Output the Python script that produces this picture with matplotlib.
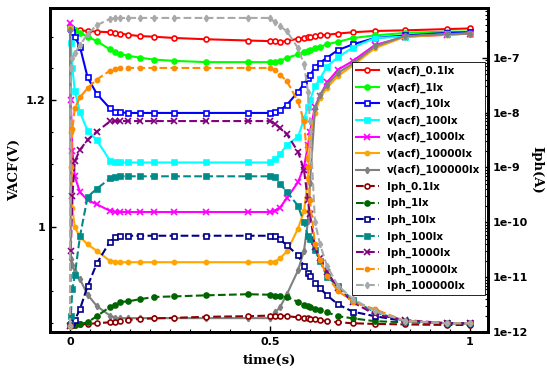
import numpy as np
import matplotlib
matplotlib.use('Agg')
import matplotlib.pyplot as plt
from matplotlib.ticker import FixedLocator, FuncFormatter, MultipleLocator, LogLocator, NullFormatter

# tiempo (s)
t = [0, 0.002, 0.006, 0.012, 0.025, 0.044, 0.067,
     0.1, 0.1125, 0.125, 0.145, 0.175, 0.21, 0.26, 0.34, 0.445,
     0.5, 0.5125, 0.525, 0.5425, 0.57, 0.585, 0.595, 0.6,
     0.6125, 0.625, 0.6425, 0.67, 0.7075, 0.7625, 0.8375, 0.9425, 1.0]

# VACF (V)
v_01 = [1.313, 1.312, 1.312, 1.311, 1.310, 1.309, 1.308,
        1.307, 1.306, 1.305, 1.303, 1.301, 1.300, 1.298, 1.296, 1.294,
        1.293, 1.293, 1.292, 1.293, 1.297, 1.298, 1.299, 1.300,
        1.301, 1.302, 1.303, 1.305, 1.307, 1.309, 1.310, 1.312, 1.313]
v_1 = [1.313, 1.313, 1.312, 1.310, 1.306, 1.300, 1.293,
       1.280, 1.276, 1.273, 1.270, 1.267, 1.264, 1.262, 1.260, 1.260,
       1.260, 1.260, 1.262, 1.267, 1.272, 1.276, 1.278, 1.279,
       1.282, 1.284, 1.288, 1.292, 1.298, 1.302, 1.306, 1.308, 1.308]
v_10 = [1.313, 1.312, 1.308, 1.300, 1.284, 1.236, 1.210,
        1.187, 1.182, 1.181, 1.180, 1.180, 1.180, 1.180, 1.180, 1.180,
        1.180, 1.181, 1.184, 1.193, 1.213, 1.226, 1.235, 1.239,
        1.252, 1.259, 1.267, 1.279, 1.288, 1.298, 1.302, 1.306, 1.307]
v_100 = [1.313, 1.290, 1.250, 1.215, 1.181, 1.152, 1.137,
         1.105, 1.103, 1.102, 1.102, 1.102, 1.102, 1.102, 1.102, 1.102,
         1.102, 1.108, 1.115, 1.130, 1.142, 1.170, 1.190, 1.200,
         1.222, 1.234, 1.253, 1.268, 1.283, 1.298, 1.300, 1.304, 1.305]
v_1000 = [1.321, 1.200, 1.120, 1.080, 1.055, 1.043, 1.036,
          1.026, 1.024, 1.024, 1.024, 1.024, 1.024, 1.024, 1.024, 1.024,
          1.024, 1.026, 1.031, 1.046, 1.071, 1.095, 1.129, 1.150,
          1.190, 1.207, 1.228, 1.248, 1.262, 1.287, 1.300, 1.303, 1.305]
v_10000 = [1.313, 1.150, 1.030, 1.000, 0.985, 0.973, 0.963,
           0.947, 0.946, 0.945, 0.945, 0.945, 0.945, 0.945, 0.945, 0.945,
           0.945, 0.946, 0.951, 0.962, 0.998, 1.025, 1.077, 1.140,
           1.180, 1.203, 1.220, 1.238, 1.255, 1.282, 1.300, 1.303, 1.305]
v_100000 = [1.310, 0.950, 0.940, 0.930, 0.918, 0.894, 0.876,
            0.861, 0.858, 0.857, 0.857, 0.857, 0.857, 0.857, 0.857, 0.857,
            0.857, 0.866, 0.874, 0.895, 0.932, 0.963, 1.010, 1.070,
            1.187, 1.208, 1.224, 1.243, 1.258, 1.285, 1.301, 1.304, 1.305]

# Iph (A)
i_01 = [1.35e-12, 1.35e-12, 1.35e-12, 1.35e-12, 1.38e-12, 1.41e-12, 1.45e-12,
        1.51e-12, 1.55e-12, 1.58e-12, 1.66e-12, 1.74e-12, 1.78e-12, 1.82e-12, 1.9e-12, 1.95e-12,
        2.0e-12, 2.0e-12, 2.0e-12, 1.95e-12, 1.86e-12, 1.82e-12, 1.78e-12, 1.74e-12,
        1.7e-12, 1.66e-12, 1.58e-12, 1.51e-12, 1.45e-12, 1.41e-12, 1.38e-12, 1.35e-12, 1.35e-12]
i_1 = [1.35e-12, 1.35e-12, 1.35e-12, 1.36e-12, 1.41e-12, 1.51e-12, 1.95e-12,
       2.88e-12, 3.16e-12, 3.55e-12, 3.63e-12, 3.98e-12, 4.37e-12, 4.47e-12, 4.68e-12, 4.9e-12,
       4.8e-12, 4.57e-12, 4.47e-12, 4.37e-12, 3.55e-12, 3.16e-12, 2.95e-12, 2.82e-12,
       2.69e-12, 2.51e-12, 2.29e-12, 1.95e-12, 1.78e-12, 1.58e-12, 1.51e-12, 1.45e-12, 1.45e-12]
i_10 = [1.35e-12, 1.4e-12, 1.5e-12, 1.66e-12, 2.63e-12, 6.9e-12, 1.78e-11,
        4.47e-11, 5.37e-11, 5.62e-11, 5.7e-11, 5.7e-11, 5.7e-11, 5.7e-11, 5.7e-11, 5.7e-11,
        5.7e-11, 5.6e-11, 4.9e-11, 3.8e-11, 2.5e-11, 1.58e-11, 1.2e-11, 1.07e-11,
        7.9e-12, 6.3e-12, 4.7e-12, 3.2e-12, 2.35e-12, 1.95e-12, 1.58e-12, 1.45e-12, 1.45e-12]
i_100 = [1.35e-12, 2e-12, 6e-12, 1.1e-11, 5.6e-11, 2.9e-10, 4.1e-10,
         6.3e-10, 6.6e-10, 6.9e-10, 6.9e-10, 6.9e-10, 6.9e-10, 6.9e-10, 6.9e-10, 6.9e-10,
         6.9e-10, 6.8e-10, 5e-10, 3.6e-10, 2e-10, 1e-10, 5.6e-11, 4.9e-11,
         3.2e-11, 2e-11, 1.02e-11, 6.9e-12, 3.8e-12, 2.3e-12, 1.58e-12, 1.45e-12, 1.45e-12]
i_1000 = [1.3e-12, 3e-11, 3e-10, 1.3e-9, 2.1e-9, 3.2e-9, 4.5e-9,
          6.9e-9, 7e-9, 7e-9, 7e-9, 7e-9, 7e-9, 7e-9, 7e-9, 7e-9,
          7e-9, 6.3e-9, 5.2e-9, 4e-9, 1.95e-9, 9e-10, 2.5e-10, 1.4e-10,
          3.5e-11, 2.2e-11, 1.26e-11, 6.3e-12, 3.5e-12, 2.1e-12, 1.66e-12, 1.45e-12, 1.45e-12]
i_10000 = [1.3e-12, 1e-9, 5e-9, 1.2e-8, 1.9e-8, 2.8e-8, 4e-8,
           5.8e-8, 6.3e-8, 6.5e-8, 6.5e-8, 6.5e-8, 6.5e-8, 6.5e-8, 6.5e-8, 6.5e-8,
           6.5e-8, 6e-8, 4.9e-8, 3.7e-8, 1.6e-8, 7e-9, 1e-9, 2.5e-10,
           4e-11, 2.1e-11, 1.05e-11, 5.6e-12, 3.6e-12, 2.6e-12, 1.6e-12, 1.45e-12, 1.45e-12]
i_100000 = [1.3e-12, 6.6e-8, 1e-7, 1.2e-7, 1.7e-7, 2.7e-7, 3.9e-7,
            5.1e-7, 5.3e-7, 5.3e-7, 5.3e-7, 5.3e-7, 5.3e-7, 5.3e-7, 5.3e-7, 5.3e-7,
            5.3e-7, 4.4e-7, 3.8e-7, 3e-7, 1.5e-7, 7.6e-8, 2.4e-8, 6.9e-9,
            1e-10, 4e-11, 1.6e-11, 7e-12, 4e-12, 2.4e-12, 1.6e-12, 1.45e-12, 1.45e-12]

luces = ['0.1lx', '1lx', '10lx', '100lx', '1000lx', '10000lx', '100000lx']
v_series = [v_01, v_1, v_10, v_100, v_1000, v_10000, v_100000]
i_series = [i_01, i_1, i_10, i_100, i_1000, i_10000, i_100000]
v_colores = ['red', 'lime', 'blue', 'cyan', 'magenta', 'orange', 'gray']
i_colores = ['darkred', 'darkgreen', 'darkblue', 'darkcyan', 'purple', 'darkorange', 'darkgray']
marcadores = ['o', 'o', 's', 's', 'x', 'o', 'd']
rellenos = [False, True, False, True, True, True, True]
tamanos = [3.6, 3.6, 3.6, 3.6, 4.2, 3.0, 3.2]

fig = plt.figure(figsize=(5.47, 3.74), dpi=100)
ax = fig.add_axes([0.0914, 0.112, 0.8007, 0.8663])
ax2 = ax.twinx()

lineas = []
for lx, v, c, m, f, s in zip(luces, v_series, v_colores, marcadores, rellenos, tamanos):
    ln, = ax.plot(t, v, color=c, marker=m, ms=s, lw=1.5, mew=1.2,
                  mfc=c if f else 'white', label='v(acf)_' + lx)
    lineas.append(ln)
for lx, i, c, m, f, s in zip(luces, i_series, i_colores, marcadores, rellenos, tamanos):
    ln, = ax2.plot(t, i, color=c, marker=m, ms=s, lw=1.5, mew=1.2, ls='--',
                   mfc=c if f else 'white', label='Iph_' + lx)
    lineas.append(ln)

ax.set_xlim(-0.05, 1.045)
ax.set_ylim(0.835, 1.345)
ax2.set_yscale('log')
ax2.set_ylim(1e-12, 8e-7)

ax.xaxis.set_major_locator(FixedLocator([0, 0.5, 1]))
ax.xaxis.set_major_formatter(FuncFormatter(lambda v, p: '%g' % v))
ax.xaxis.set_minor_locator(MultipleLocator(0.05))
ax.yaxis.set_major_locator(FixedLocator([1, 1.2]))
ax.yaxis.set_major_formatter(FuncFormatter(lambda v, p: '%g' % v))
ax.yaxis.set_minor_locator(MultipleLocator(0.05))
ax2.yaxis.set_major_locator(LogLocator(base=10, numticks=20))
ax2.yaxis.set_major_formatter(FuncFormatter(lambda v, p: '1e%d' % int(round(np.log10(v)))))
ax2.yaxis.set_minor_locator(LogLocator(base=10, subs=np.arange(2, 10), numticks=20))
ax2.yaxis.set_minor_formatter(NullFormatter())

for a in (ax, ax2):
    a.tick_params(which='both', direction='in', labelsize=8)
    a.tick_params(which='major', length=4, width=1)
    a.tick_params(which='minor', length=2, width=0.8)
    for lab in a.get_xticklabels() + a.get_yticklabels():
        lab.set_fontweight('bold')
    for sp in a.spines.values():
        sp.set_linewidth(2)
ax.tick_params(right=False, top=False)

ax.set_xlabel('time(s)', family='DejaVu Serif', fontweight='bold', fontsize=9.5, labelpad=5)
ax.set_ylabel('VACF(V)', family='DejaVu Serif', fontweight='bold', fontsize=9.5, labelpad=3)
ax2.set_ylabel('Iph(A)', family='DejaVu Serif', fontweight='bold', fontsize=9.5, rotation=270, labelpad=11)

leg = ax2.legend(handles=lineas, loc='upper right', bbox_to_anchor=(1.004, 0.85),
                 prop={'weight': 'bold', 'size': 7.5}, labelspacing=0.6,
                 fancybox=False, framealpha=1, edgecolor='black', borderpad=0.4,
                 handlelength=2.2)
leg.get_frame().set_linewidth(0.6)

fig.savefig('out.png', dpi=100)
